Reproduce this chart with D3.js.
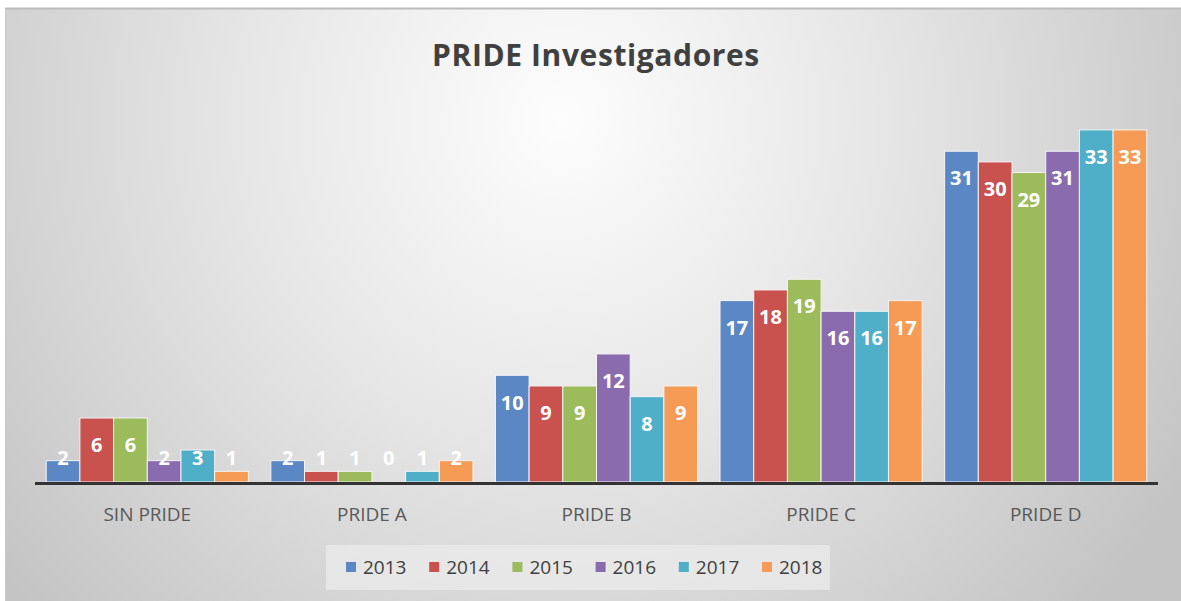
<!DOCTYPE html>
<html>
<head>
<meta charset="utf-8">
<script src="https://cdn.jsdelivr.net/npm/d3@7"></script>
<style>
  body { margin: 0; background: #fff; }
  svg { display: block; }
</style>
</head>
<body>
<svg id="chart" width="1181" height="601"></svg>
<script>
// data
const categories = ["SIN PRIDE", "PRIDE A", "PRIDE B", "PRIDE C", "PRIDE D"];
const years = ["2013", "2014", "2015", "2016", "2017", "2018"];
const v2013 = [2, 2, 10, 17, 31];
const v2014 = [6, 1, 9, 18, 30];
const v2015 = [6, 1, 9, 19, 29];
const v2016 = [2, 0, 12, 16, 31];
const v2017 = [3, 1, 8, 16, 33];
const v2018 = [1, 2, 9, 17, 33];
const colors = ["#5b87c4", "#c9524e", "#9cbb5b", "#8a6bae", "#4fafc8", "#f59b55"];

const series = [v2013, v2014, v2015, v2016, v2017, v2018];

const W = 1181, H = 601;
const baseY = 482;
const svg = d3.select("#chart");

// background gradient
const defs = svg.append("defs");
const grad = defs.append("radialGradient")
    .attr("id", "bg")
    .attr("gradientUnits", "userSpaceOnUse")
    .attr("cx", 560).attr("cy", 120).attr("r", 720)
    .attr("fx", 560).attr("fy", 120);
grad.append("stop").attr("offset", "0%").attr("stop-color", "#fdfdfd");
grad.append("stop").attr("offset", "45%").attr("stop-color", "#e6e6e6");
grad.append("stop").attr("offset", "100%").attr("stop-color", "#c4c4c4");

svg.append("rect")
    .attr("x", 5).attr("y", 9)
    .attr("width", W - 5).attr("height", H - 9)
    .attr("fill", "url(#bg)");
svg.append("line")
    .attr("x1", 5).attr("x2", W).attr("y1", 8.5).attr("y2", 8.5)
    .attr("stroke", "#bcbcbc").attr("stroke-width", 2);
svg.append("line")
    .attr("x1", 5.5).attr("x2", 5.5).attr("y1", 8).attr("y2", H)
    .attr("stroke", "#c8c8c8").attr("stroke-width", 1);

// title
svg.append("text")
    .attr("x", 596).attr("y", 66)
    .attr("text-anchor", "middle")
    .attr("font-family", "Open Sans, sans-serif")
    .attr("font-weight", "bold")
    .attr("font-size", 30)
    .attr("letter-spacing", 0.6)
    .attr("fill", "#404040")
    .text("PRIDE Investigadores");

// scales
const x0 = d3.scaleBand()
    .domain(categories)
    .range([35, 1158])
    .paddingInner(0.1)
    .paddingOuter(0.05);

const x1 = d3.scaleBand()
    .domain(years)
    .range([0, x0.bandwidth()]);

const y = d3.scaleLinear()
    .domain([0, 35])
    .range([baseY, baseY - 35 * 10.67]);

const groups = svg.append("g")
    .selectAll("g")
    .data(categories)
    .join("g")
    .attr("transform", d => `translate(${x0(d)},0)`);

const cells = groups.selectAll("g")
    .data((c, ci) => years.map((yr, si) => ({yr: yr, si: si, v: series[si][ci]})))
    .join("g");

cells.append("rect")
    .attr("x", d => x1(d.yr))
    .attr("width", x1.bandwidth())
    .attr("y", d => y(d.v))
    .attr("height", d => baseY - y(d.v))
    .attr("fill", d => colors[d.si])
    .attr("stroke", "#f4f4f4")
    .attr("stroke-width", d => d.v > 0 ? 1 : 0);

cells.append("text")
    .attr("x", d => x1(d.yr) + x1.bandwidth() / 2)
    .attr("y", d => Math.min(y(d.v) + 27, baseY - 24))
    .attr("dy", "0.36em")
    .attr("text-anchor", "middle")
    .attr("font-family", "Open Sans, sans-serif")
    .attr("font-weight", "bold")
    .attr("font-size", 20)
    .attr("fill", "#ffffff")
    .text(d => d.v);

// baseline
svg.append("line")
    .attr("x1", 35).attr("x2", 1158)
    .attr("y1", baseY + 1.5).attr("y2", baseY + 1.5)
    .attr("stroke", "#333333")
    .attr("stroke-width", 3);

// category axis
const xAxis = svg.append("g")
    .attr("transform", `translate(0,${baseY + 3})`)
    .call(d3.axisBottom(x0).tickSize(0).tickPadding(23));
xAxis.select(".domain").remove();
xAxis.selectAll("text")
    .attr("font-family", "Open Sans, sans-serif")
    .attr("font-size", 19)
    .attr("fill", "#595959");

// legend
svg.append("rect")
    .attr("x", 326).attr("y", 545)
    .attr("width", 504).attr("height", 45)
    .attr("fill", "#ececec")
    .attr("opacity", 0.7);

const legendX = d3.scalePoint()
    .domain(years)
    .range([346, 762]);

const leg = svg.append("g")
    .selectAll("g")
    .data(years)
    .join("g")
    .attr("transform", d => `translate(${legendX(d)},567)`);

leg.append("rect")
    .attr("x", 0).attr("y", -5)
    .attr("width", 10).attr("height", 10)
    .attr("fill", (d, i) => colors[i]);

leg.append("text")
    .attr("x", 17)
    .attr("dy", "0.36em")
    .attr("font-family", "Open Sans, sans-serif")
    .attr("font-size", 19)
    .attr("fill", "#404040")
    .text(d => d);
</script>
</body>
</html>
